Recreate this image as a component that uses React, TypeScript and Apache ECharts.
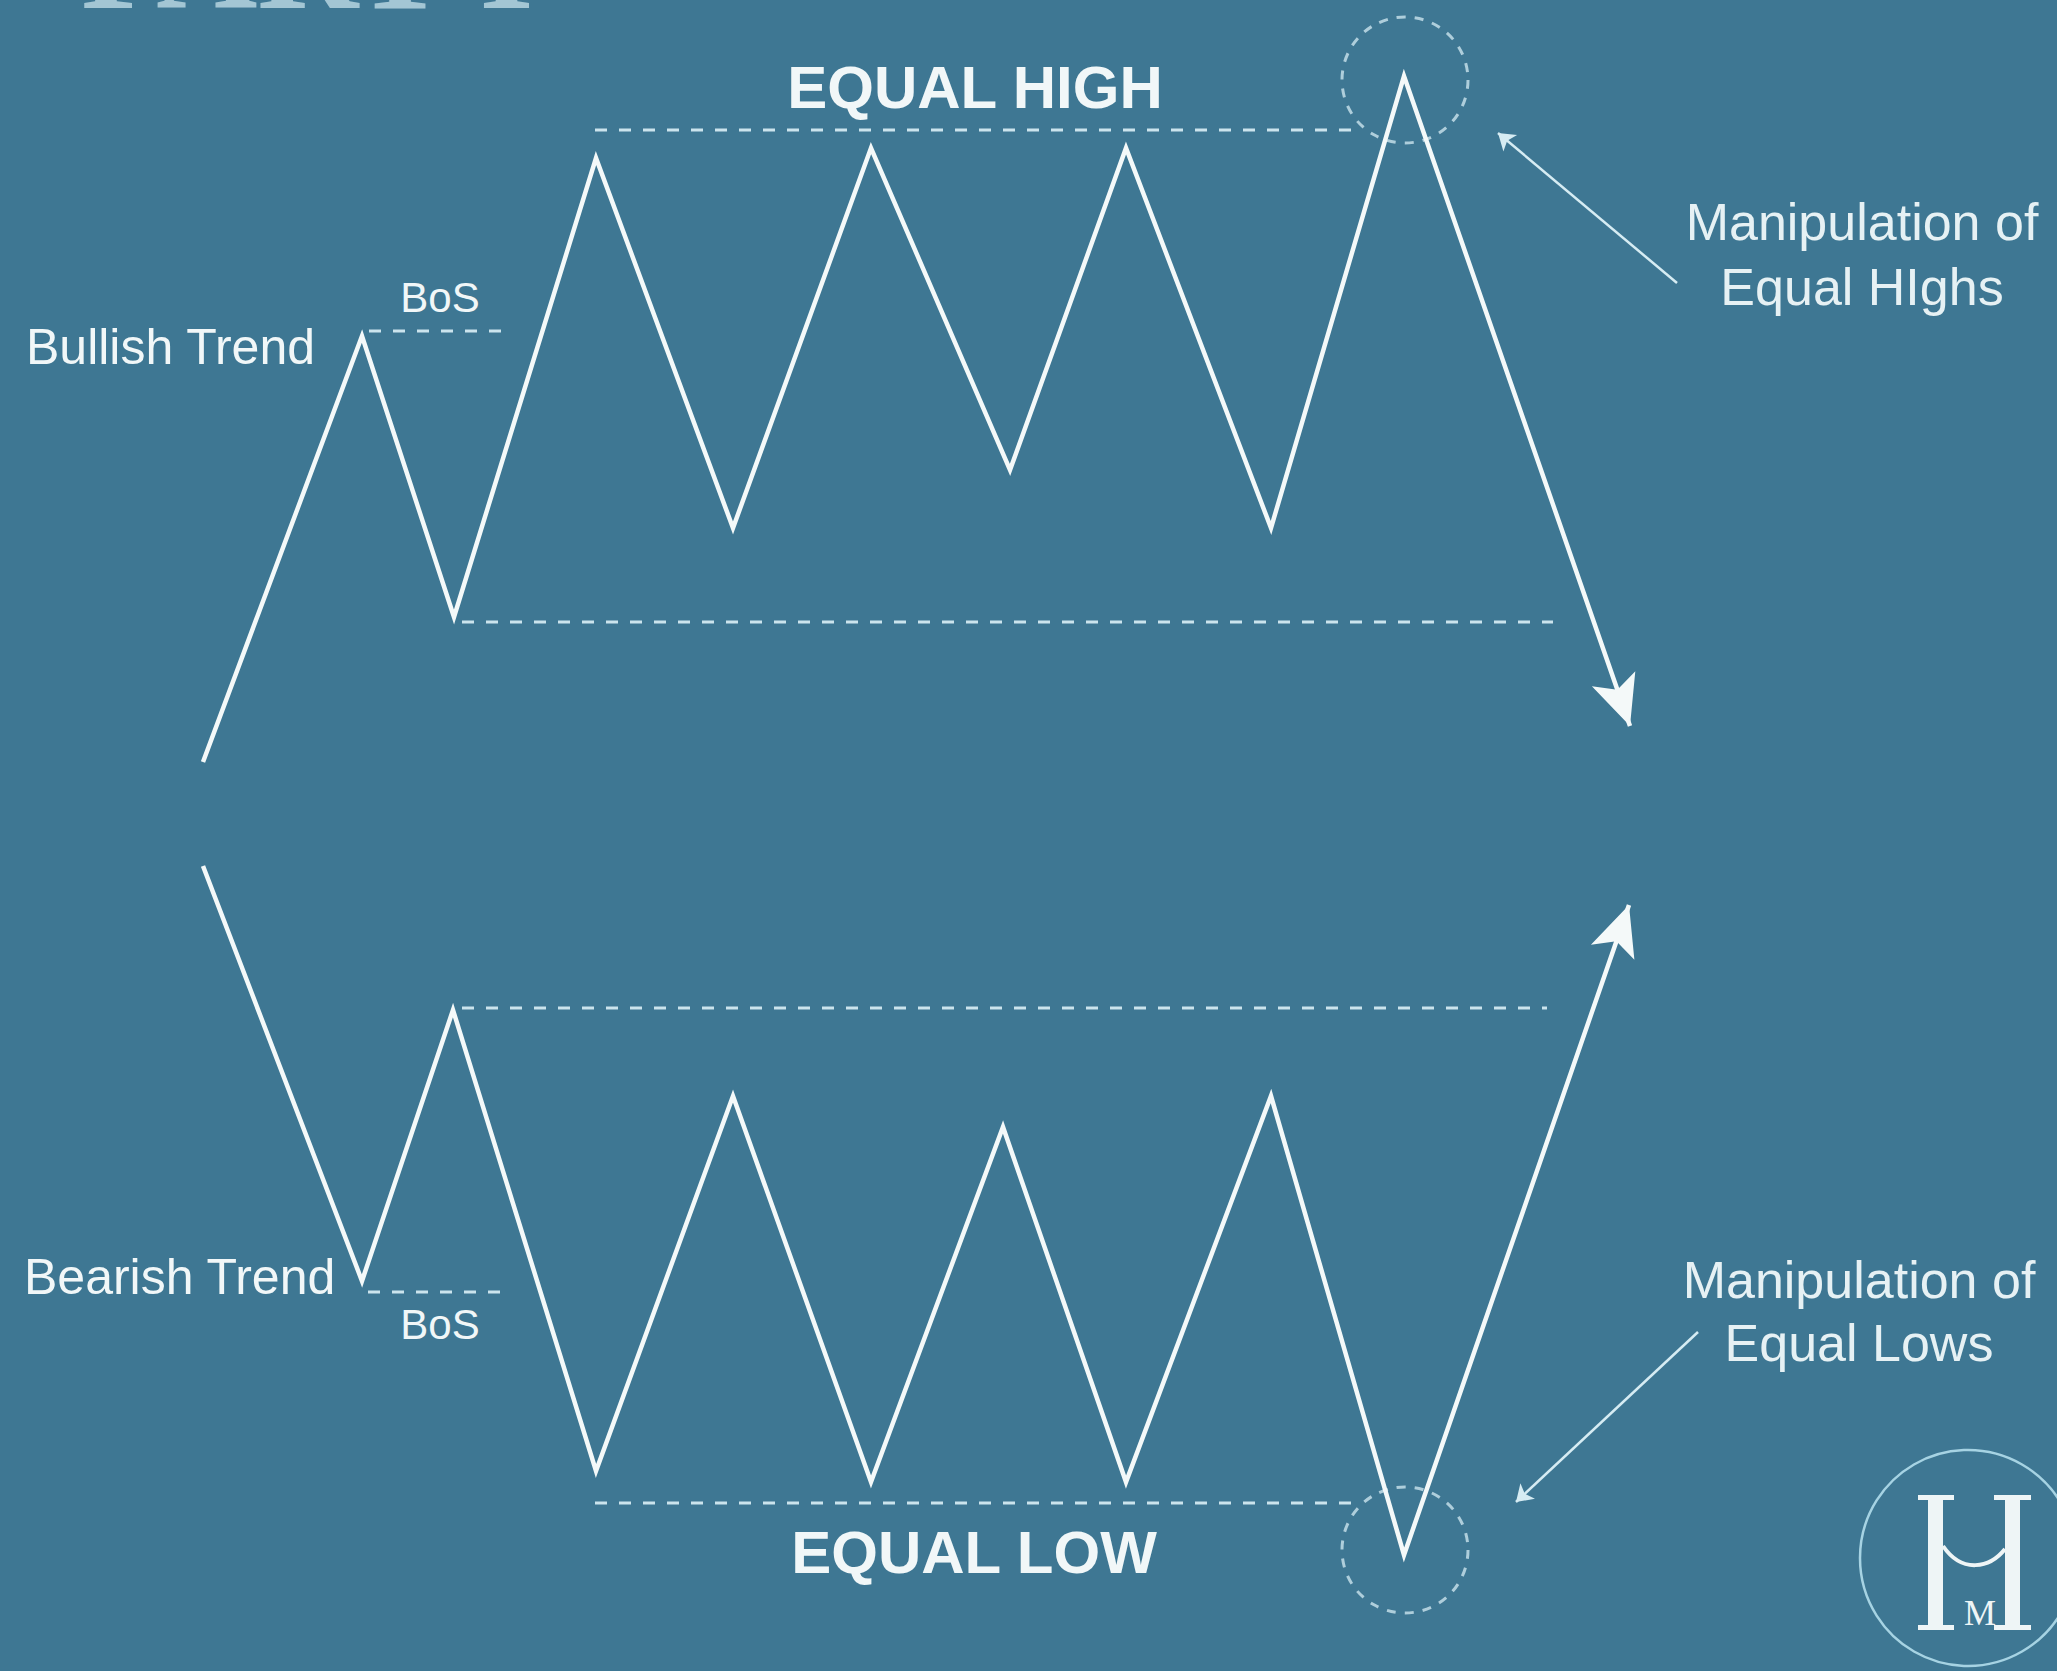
import React, { useEffect, useRef } from "react";
import * as echarts from "echarts";

const W = 2057;
const H = 1671;

// Bullish structure: swing points (time, level measured from top)
const bullishTime = [203, 362, 454, 596, 733, 871, 1010, 1126, 1271, 1404, 1630];
const bullishLevel = [762, 336, 617, 158, 528, 148, 470, 148, 528, 76, 726];

// Bearish structure
const bearishTime = [203, 362, 453, 596, 733, 871, 1003, 1126, 1271, 1404, 1629];
const bearishLevel = [866, 1281, 1010, 1471, 1096, 1482, 1127, 1482, 1096, 1555, 905];

// Dashed reference levels
const levelValue = [331, 130, 622, 1008, 1292, 1503];
const levelFrom = [369, 595, 462, 462, 368, 595];
const levelTo = [503, 1360, 1553, 1547, 502, 1363];

// Manipulation zones (dashed circles)
const zoneTime = [1405, 1405];
const zoneLevel = [80, 1550];

// Pointer arrows from labels to zones
const pointerFromTime = [1677, 1698];
const pointerFromLevel = [283, 1332];
const pointerToTime = [1498, 1516];
const pointerToLevel = [133, 1502];

const ARROW = "path://M24,0 L48,52 L24,40 L0,52 Z";
const ARROW_LEN = 50;

function trendData(xs: number[], ys: number[]) {
  const n = xs.length;
  const dx = xs[n - 1] - xs[n - 2];
  const dy = ys[n - 1] - ys[n - 2];
  const len = Math.hypot(dx, dy);
  const ux = dx / len;
  const uy = dy / len;
  const rot = (Math.atan2(-ux, -uy) * 180) / Math.PI;
  return xs.map((x, i) =>
    i < n - 1
      ? { value: [x, ys[i]], symbol: "none" }
      : {
          value: [x, ys[i]],
          symbol: ARROW,
          symbolSize: [46, ARROW_LEN],
          symbolKeepAspect: false,
          symbolRotate: rot,
          symbolOffset: [(-ux * ARROW_LEN) / 2, (-uy * ARROW_LEN) / 2],
          itemStyle: { color: "#f4f9f9", borderWidth: 0, opacity: 1 },
        }
  );
}

const BG = "#3e7793";
const LINE = "#f4f9f9";
const DASH = "#cbe4ed";
const TEXT = "#f1f7f8";
const SANS = "'Liberation Sans', Arial, Helvetica, sans-serif";
const SERIF = "'Liberation Serif', 'DejaVu Serif', serif";

function txt(
  text: string,
  x: number,
  y: number,
  size: number,
  align: string,
  opts: any = {}
) {
  return {
    type: "text",
    x,
    y,
    silent: true,
    style: {
      text,
      fill: opts.fill || TEXT,
      fontSize: size,
      fontFamily: opts.family || SANS,
      fontWeight: opts.weight || "normal",
      align,
      textAlign: align,
      verticalAlign: "middle",
      textVerticalAlign: "middle",
    },
  };
}

export default function App() {
  const ref = useRef<HTMLDivElement>(null);

  useEffect(() => {
    document.body.style.margin = "0";
    document.body.style.overflow = "hidden";
    if (!ref.current) return;
    const chart = echarts.init(ref.current, null, { renderer: "svg" });

    const levelSeries = levelValue.map((v, i) => ({
      type: "line",
      silent: true,
      symbol: "none",
      clip: false,
      lineStyle: { color: DASH, width: 3, type: [12, 12] },
      data: [
        [levelFrom[i], v],
        [levelTo[i], v],
      ],
    }));

    const option: any = {
      animation: false,
      backgroundColor: BG,
      grid: { left: 0, right: 0, top: 0, bottom: 0 },
      xAxis: { type: "value", min: 0, max: W, show: false },
      yAxis: { type: "value", min: 0, max: H, inverse: true, show: false },
      series: [
        ...levelSeries,
        {
          type: "scatter",
          silent: true,
          symbol: "circle",
          symbolSize: 126,
          clip: false,
          itemStyle: {
            color: "rgba(0,0,0,0)",
            borderColor: DASH,
            borderWidth: 3,
            borderType: [9, 9],
          },
          data: zoneTime.map((t, i) => [t, zoneLevel[i]]),
        },
        {
          type: "line",
          silent: true,
          showSymbol: true,
          clip: false,
          lineStyle: { color: LINE, width: 4.5, join: "miter" },
          data: trendData(bullishTime, bullishLevel),
        },
        {
          type: "line",
          silent: true,
          showSymbol: true,
          clip: false,
          lineStyle: { color: LINE, width: 4.5, join: "miter" },
          data: trendData(bearishTime, bearishLevel),
        },
        {
          type: "lines",
          coordinateSystem: "cartesian2d",
          silent: true,
          symbol: ["none", "arrow"],
          symbolSize: 16,
          lineStyle: { color: "#d6ecf3", width: 2.5, curveness: 0, opacity: 1 },
          data: pointerFromTime.map((t, i) => ({
            coords: [
              [t, pointerFromLevel[i]],
              [pointerToTime[i], pointerToLevel[i]],
            ],
          })),
        },
      ],
      graphic: [
        txt("PART I", 81, -40, 140, "left", {
          family: SERIF,
          weight: "bold",
          fill: "#a3c6d4",
        }),
        txt("EQUAL HIGH", 975, 87, 60, "center", { weight: "bold" }),
        txt("EQUAL LOW", 974, 1552, 60, "center", { weight: "bold" }),
        txt("Bullish Trend", 26, 347, 50, "left"),
        txt("Bearish Trend", 24, 1277, 50, "left"),
        txt("BoS", 440, 297, 42, "center"),
        txt("BoS", 440, 1324, 42, "center"),
        txt("Manipulation of", 1862, 222, 52, "center", { fill: "#e6f1f4" }),
        txt("Equal HIghs", 1862, 287, 52, "center", { fill: "#e6f1f4" }),
        txt("Manipulation of", 1859, 1280, 52, "center", { fill: "#e6f1f4" }),
        txt("Equal Lows", 1859, 1343, 52, "center", { fill: "#e6f1f4" }),
        // logo
        {
          type: "circle",
          silent: true,
          shape: { cx: 1968, cy: 1558, r: 108 },
          style: { fill: "none", stroke: "#a6d3e3", lineWidth: 2.5 },
        },
        { type: "rect", silent: true, shape: { x: 1928, y: 1495, width: 15, height: 135 }, style: { fill: "#eef5f6" } },
        { type: "rect", silent: true, shape: { x: 1918, y: 1495, width: 36, height: 5 }, style: { fill: "#eef5f6" } },
        { type: "rect", silent: true, shape: { x: 1918, y: 1625, width: 36, height: 5 }, style: { fill: "#eef5f6" } },
        { type: "rect", silent: true, shape: { x: 2005, y: 1495, width: 15, height: 135 }, style: { fill: "#eef5f6" } },
        { type: "rect", silent: true, shape: { x: 1994, y: 1495, width: 37, height: 5 }, style: { fill: "#eef5f6" } },
        { type: "rect", silent: true, shape: { x: 1994, y: 1625, width: 37, height: 5 }, style: { fill: "#eef5f6" } },
        {
          type: "bezierCurve",
          silent: true,
          shape: { x1: 1943, y1: 1546, cpx1: 1962, cpy1: 1574, cpx2: 1990, cpy2: 1568, x2: 2005, y2: 1549 },
          style: { stroke: "#eef5f6", lineWidth: 4, fill: "none" },
        },
        txt("M", 1980, 1613, 36, "center", { family: SERIF, fill: "#eef5f6" }),
      ],
    };

    chart.setOption(option);
    return () => chart.dispose();
  }, []);

  return <div ref={ref} style={{ width: W, height: H }} />;
}
